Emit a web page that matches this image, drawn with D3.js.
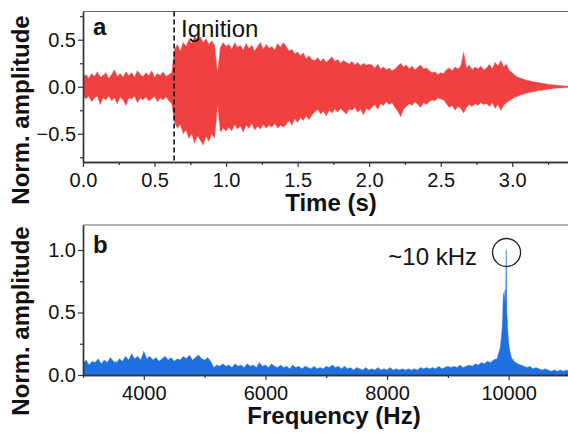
<!DOCTYPE html>
<html><head><meta charset="utf-8">
<script src="https://cdn.jsdelivr.net/npm/d3@7"></script>
<style>body{margin:0;background:#fff}svg{display:block}</style>
</head><body><svg id="c" width="568" height="434"></svg>
<script>
// ---------- Panel a: time signal envelope (upper / lower values every 0.02 s) ----------
const timeStart = 0, timeStep = 0.02;
const timeHi = [
 0.10,0.13,0.09,0.14,0.11,0.16,0.10,0.12,0.15,0.09,
 0.13,0.18,0.11,0.14,0.10,0.16,0.12,0.15,0.10,0.17,
 0.13,0.11,0.15,0.12,0.17,0.10,0.14,0.12,0.16,0.11,
 0.13,0.15,
 0.40,0.45,0.38,0.47,0.43,0.50,0.46,0.54,0.49,0.53,0.47,0.51,0.45,0.49,0.44,0.15,0.42,0.47,0.43,
 0.45,0.40,0.47,0.42,0.44,0.39,0.46,0.41,0.44,0.38,0.43,0.47,0.40,0.45,0.41,0.43,0.39,0.46,0.42,0.47,
 0.43,0.38,0.40,0.35,0.37,0.33,0.36,0.30,0.33,0.29,
 0.28,0.31,0.27,0.30,0.26,0.29,0.32,0.27,0.29,0.25,0.28,0.26,0.24,0.27,0.23,0.26,0.22,0.25,0.23,0.24,
 0.23,0.20,0.24,0.19,0.21,0.18,0.20,0.17,0.19,0.22,0.25,0.21,0.23,0.19,0.22,0.18,0.21,0.23,0.19,0.20,
 0.17,0.15,0.16,0.13,0.15,0.14,0.18,0.20,0.17,0.21,0.19,0.22,0.37,0.20,0.23,0.18,0.21,0.19,0.22,0.18,
 0.20,0.24,0.19,0.26,0.22,0.28,0.21,0.24,0.17,0.15,
 0.12,0.10,0.09,0.08,0.07,0.065,0.055,0.05,0.045,0.04,0.035,0.03,0.025,0.02,0.018,0.015,0.012,0.01,0.008,0.006
];
const timeLo = [
 -0.09,-0.13,-0.10,-0.16,-0.12,-0.10,-0.19,-0.12,-0.14,-0.10,
 -0.15,-0.12,-0.18,-0.11,-0.14,-0.20,-0.12,-0.13,-0.10,-0.17,
 -0.12,-0.14,-0.11,-0.15,-0.13,-0.10,-0.16,-0.12,-0.14,-0.11,
 -0.15,-0.18,
 -0.38,-0.44,-0.40,-0.50,-0.46,-0.55,-0.50,-0.60,-0.52,-0.57,-0.62,-0.53,-0.58,-0.50,-0.55,-0.20,-0.48,-0.44,-0.47,
 -0.43,-0.47,-0.40,-0.45,-0.42,-0.48,-0.41,-0.44,-0.39,-0.46,-0.42,-0.45,-0.40,-0.44,-0.41,-0.43,-0.39,-0.44,-0.41,-0.43,
 -0.40,-0.36,-0.41,-0.34,-0.38,-0.33,-0.36,-0.31,-0.35,-0.30,
 -0.27,-0.24,-0.29,-0.26,-0.31,-0.25,-0.28,-0.24,-0.27,-0.23,-0.26,-0.29,-0.24,-0.25,-0.22,-0.27,-0.24,-0.30,-0.23,-0.25,
 -0.22,-0.19,-0.24,-0.18,-0.20,-0.16,-0.19,-0.17,-0.22,-0.26,-0.32,-0.24,-0.21,-0.18,-0.20,-0.16,-0.19,-0.22,-0.17,-0.19,
 -0.16,-0.14,-0.15,-0.12,-0.13,-0.14,-0.18,-0.22,-0.20,-0.25,-0.21,-0.23,-0.28,-0.22,-0.19,-0.21,-0.18,-0.20,-0.17,-0.19,
 -0.18,-0.21,-0.17,-0.23,-0.19,-0.25,-0.20,-0.17,-0.15,-0.13,
 -0.11,-0.10,-0.085,-0.08,-0.07,-0.06,-0.055,-0.05,-0.04,-0.04,-0.035,-0.03,-0.025,-0.02,-0.017,-0.014,-0.012,-0.01,-0.008,-0.006
];
const ignitionTime = 0.637;
const timeDomain = [0, 3.4];
const ampDomainA = [-0.8, 0.8];
const timeTicks = [0, 0.5, 1.0, 1.5, 2.0, 2.5, 3.0];
const timeMinor = [0.25, 0.75, 1.25, 1.75, 2.25, 2.75, 3.25];
const ampTicksA = [-0.5, 0, 0.5];
const ampMinorA = [-0.75, -0.25, 0.25, 0.75];

// ---------- Panel b: spectrum (every 50 Hz) + fine peak (every 10 Hz) ----------
const freqStart = 3000, freqStep = 50;
const spectrum = [
 0.09,0.12,0.08,0.11,0.10,0.13,0.09,0.12,0.10,0.14,0.11,0.10,0.13,0.11,0.15,0.12,0.17,0.13,0.15,0.12,
 0.19,0.13,0.15,0.12,0.14,0.11,0.13,0.15,0.12,0.14,0.11,0.13,0.12,0.15,0.13,0.16,0.12,0.14,0.16,0.13,
 0.12,0.14,0.11,0.06,0.08,0.07,0.09,0.07,0.08,0.06,0.09,0.07,0.08,0.06,0.09,0.07,0.08,0.06,0.10,0.07,
 0.08,0.06,0.09,0.07,0.06,0.08,0.06,0.07,0.05,0.08,0.06,0.07,0.05,0.07,0.06,0.05,0.07,0.05,0.06,0.05,
 0.07,0.06,0.08,0.06,0.07,0.05,0.07,0.05,0.06,0.04,0.06,0.05,0.04,0.06,0.04,0.05,0.04,0.06,0.04,0.05,
 0.04,0.06,0.04,0.05,0.04,0.05,0.04,0.05,0.04,0.05,0.04,0.06,0.05,0.06,0.05,0.06,0.05,0.07,0.05,0.06,
 0.07,0.06,0.07,0.06,0.08,0.06,0.07,0.08,0.07,0.09,0.08,0.10,0.09,0.11,0.10,0.12,0.13,0.14,0.14,0.14,
 0.13,0.12,0.10,0.09,0.08,0.07,0.06,0.07,0.05,0.06,0.05,0.04,0.05,0.04,0.03,0.04,0.03,0.04,0.03,0.04,
 0.03
];
const peakStart = 9820, peakStep = 10;
const peakAmp = [
 0.15,0.17,0.18,0.20,0.22,0.26,0.30,0.36,0.45,0.62,
 0.66,0.58,0.68,0.62,1.00,0.50,0.40,0.32,0.26,0.22,
 0.19,0.17,0.15,0.13,0.12,0.13,0.11,0.10,0.11,0.09,
 0.10,0.08,0.09,0.08,0.08,0.07
];
const peakMarker = [9965, 0.98];
const freqDomain = [3000, 11000];
const ampDomainB = [0, 1.2];
const freqTicks = [4000, 6000, 8000, 10000];
const freqMinor = [3000, 5000, 7000, 9000, 11000];
const ampTicksB = [0, 0.5, 1.0];
const ampMinorB = [0.25, 0.75];

// ---------- Texts ----------
const yTitle = "Norm. amplitude";
const xTitleA = "Time (s)";
const xTitleB = "Frequency (Hz)";
const panelA = "a", panelB = "b";
const ignitionLabel = "Ignition";
const peakLabel = "~10 kHz";

// ---------- Drawing ----------
const FONT = "'Liberation Sans', Arial, Helvetica, sans-serif";
const svg = d3.select("#c");
const L = 83, R = 569.5;
const xa = d3.scaleLinear(timeDomain, [L, R]);
const ya = d3.scaleLinear(ampDomainA, [162, 11.5]);
const xb = d3.scaleLinear(freqDomain, [L, R]);
const yb = d3.scaleLinear(ampDomainB, [375, 225]);

const defs = svg.append("defs");
defs.append("clipPath").attr("id","ca").append("rect")
  .attr("x",L).attr("y",ya.range()[1]).attr("width",R-L).attr("height",ya.range()[0]-ya.range()[1]);
defs.append("clipPath").attr("id","cb").append("rect")
  .attr("x",L).attr("y",yb.range()[1]).attr("width",R-L).attr("height",yb.range()[0]-yb.range()[1]);

// panel a signal
const nA = Math.min(timeHi.length, timeLo.length);
const areaA = d3.area()
  .x(i => xa(timeStart + i*timeStep))
  .y0(i => ya(timeLo[i]))
  .y1(i => ya(timeHi[i]));
svg.append("path").attr("clip-path","url(#ca)")
  .datum(d3.range(nA)).attr("d", areaA)
  .attr("fill","#f04040").attr("stroke","#f26666").attr("stroke-width",0.5);

// panel b spectrum
const areaB = d3.area()
  .x(i => xb(freqStart + i*freqStep))
  .y0(yb(0)).y1(i => yb(spectrum[i]));
svg.append("path").attr("clip-path","url(#cb)")
  .datum(d3.range(spectrum.length)).attr("d", areaB)
  .attr("fill","#1e6fe0").attr("stroke","#3f86ea").attr("stroke-width",0.5);
const areaP = d3.area()
  .x(i => xb(peakStart + i*peakStep))
  .y0(yb(0)).y1(i => yb(peakAmp[i]));
svg.append("path").attr("clip-path","url(#cb)")
  .datum(d3.range(peakAmp.length)).attr("d", areaP)
  .attr("fill","#1e6fe0").attr("stroke","#2f7ae6").attr("stroke-width",0.5);

// frames (top lines)
svg.append("line").attr("x1",L).attr("x2",R).attr("y1",ya.range()[1]).attr("y2",ya.range()[1])
  .attr("stroke","#666").attr("stroke-width",1);
svg.append("line").attr("x1",L).attr("x2",R).attr("y1",yb.range()[1]).attr("y2",yb.range()[1])
  .attr("stroke","#666").attr("stroke-width",1);

function styleAxis(g){
  g.select(".domain").attr("stroke","#333").attr("stroke-width",1.4);
  g.selectAll(".tick line").attr("stroke","#333").attr("stroke-width",1.2);
  g.selectAll(".tick text").attr("fill","#111").style("font-family",FONT).style("font-size","20px");
}
function addAxes(xs, ys, xt, xm, yt, ym, xfmt, yfmt){
  const bottom = ys.range()[0];
  svg.append("g").attr("transform",`translate(0,${bottom})`)
    .call(d3.axisBottom(xs).tickValues(xm).tickSize(3).tickSizeOuter(0).tickFormat(""))
    .call(styleAxis);
  svg.append("g").attr("transform",`translate(0,${bottom})`)
    .call(d3.axisBottom(xs).tickValues(xt).tickSize(5).tickSizeOuter(0).tickPadding(6).tickFormat(xfmt))
    .call(styleAxis);
  svg.append("g").attr("transform",`translate(${L},0)`)
    .call(d3.axisLeft(ys).tickValues(ym).tickSize(3).tickSizeOuter(0).tickFormat(""))
    .call(styleAxis);
  svg.append("g").attr("transform",`translate(${L},0)`)
    .call(d3.axisLeft(ys).tickValues(yt).tickSize(5).tickSizeOuter(0).tickPadding(2).tickFormat(yfmt))
    .call(styleAxis);
}
addAxes(xa, ya, timeTicks, timeMinor, ampTicksA, ampMinorA, d3.format(".1f"), d3.format(".1f"));
addAxes(xb, yb, freqTicks, freqMinor, ampTicksB, ampMinorB, d3.format("d"), d3.format(".1f"));

// ignition dashed line
svg.append("line")
  .attr("x1",xa(ignitionTime)).attr("x2",xa(ignitionTime))
  .attr("y1",ya(ampDomainA[1])).attr("y2",ya(ampDomainA[0]))
  .attr("stroke","#111").attr("stroke-width",1.6).attr("stroke-dasharray","5,3");

// peak marker circle
svg.append("circle").attr("cx",xb(peakMarker[0])).attr("cy",yb(peakMarker[1])).attr("r",14)
  .attr("fill","none").attr("stroke","#222").attr("stroke-width",1.3);

// texts
function txt(x,y,s,opt={}){
  return svg.append("text").attr("x",x).attr("y",y).text(s)
    .style("font-family",FONT).style("font-size",(opt.size||24)+"px")
    .style("font-weight",opt.bold?"bold":"normal")
    .attr("text-anchor",opt.anchor||"start").attr("fill","#111");
}
txt(0,0,yTitle,{bold:true,anchor:"middle"}).attr("transform","translate(29,110) rotate(-90)");
txt(0,0,yTitle,{bold:true,anchor:"middle"}).attr("transform","translate(29,321) rotate(-90)");
txt(331,211,xTitleA,{bold:true,anchor:"middle"});
txt(334,424,xTitleB,{bold:true,anchor:"middle"});
txt(93,35,panelA,{bold:true});
txt(93,253,panelB,{bold:true});
txt(181,37,ignitionLabel,{});
txt(477,265,peakLabel,{anchor:"end"});
</script>
</body></html>
